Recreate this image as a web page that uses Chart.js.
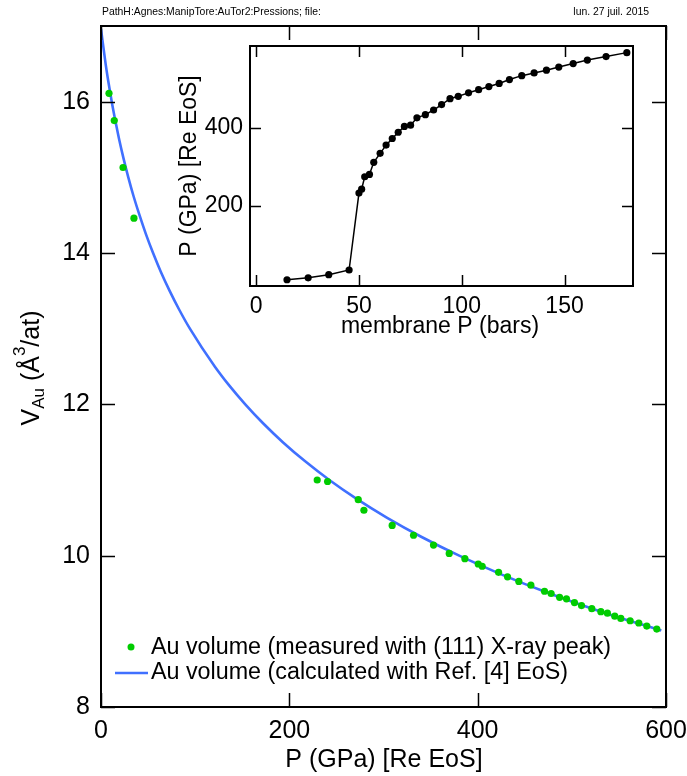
<!DOCTYPE html>
<html><head><meta charset="utf-8">
<script src="https://cdn.jsdelivr.net/npm/chart.js@4.4.1/dist/chart.umd.min.js"></script>
<style>
html,body{margin:0;padding:0;background:#fff;}
#wrap{position:relative;width:687px;height:776px;background:#fff;}
#main{position:absolute;left:0;top:0;}
#inset{position:absolute;left:150px;top:30px;}
</style></head>
<body>
<div id="wrap">
<canvas id="main" width="687" height="776"></canvas>
<canvas id="inset" width="510" height="315"></canvas>
</div>
<script>
// ---- Main plot data: measured Au volume (green points) ----
const measuredP = [8.5,14.1,23.4,35.0,229.6,240.6,273.2,279.2,309.2,331.9,353.1,369.8,386.4,400.6,404.8,422.2,431.7,443.7,456.5,471,478,487,494.3,502.8,510.3,521.2,530.8,537.8,545.6,552,561.9,571.1,579.6,590.2];
const measuredV = [16.11,15.75,15.13,14.46,11.00,10.98,10.74,10.60,10.40,10.27,10.14,10.03,9.96,9.89,9.86,9.78,9.72,9.66,9.61,9.53,9.50,9.45,9.43,9.38,9.34,9.30,9.26,9.24,9.20,9.17,9.14,9.11,9.07,9.03];
// ---- Main plot data: calculated EoS curve (blue line) ----
const curveP = [0,4.9,8.0,11.4,15.2,19.3,23.9,29.0,34.6,40.9,47.7,55.3,63.6,72.9,83.1,94.4,120.8,136.1,153.2,172.1,193.1,216.5,242.5,271.5,303.9,340.0,380.4,425.7,476.4,533.4,595];
const curveV = [16.96,16.5,16.25,16.0,15.75,15.5,15.25,15.0,14.75,14.5,14.25,14.0,13.75,13.5,13.25,13.0,12.5,12.25,12.0,11.75,11.5,11.25,11.0,10.75,10.5,10.25,10.0,9.75,9.5,9.25,9.01];
// ---- Inset data: membrane pressure vs sample pressure ----
const membraneP = [15,25.3,35.3,45.2,50.0,51.3,52.8,55.1,57.2,60.3,63.2,66.2,69.1,72.1,75.1,78.2,82.3,86.3,90.2,94.3,98.3,103.3,108.2,113.2,118.2,123.2,129.2,135.2,141.2,147.2,154.2,161.1,170.2,180.3];
const sampleP = [10,15,23,35,232,242,274,280,311,334,355,372,388,403,406,425,433,445,459,474,480,489,497,505,513,523,533,540,547,555,564,573,582,592];
// ---- Tick labels ----
const mainXTicks = [0,200,400,600];
const mainYTicks = [8,10,12,14,16];
const insetXTicks = [0,50,100,150];
const insetYTicks = [200,400];

const FONT = '"Liberation Sans", Arial, Helvetica, sans-serif';
const GREEN = 'rgb(0,204,0)';
const BLUE = 'rgb(64,112,255)';

function framePlugin(o){
  return {
    id:'frame'+o.name,
    afterDraw(chart){
      const {ctx, chartArea:a, scales:{x,y}} = chart;
      ctx.save();
      ctx.strokeStyle='#000';
      ctx.lineWidth=o.tickW;
      ctx.beginPath();
      for(const v of o.xt){
        const px=Math.round(x.getPixelForValue(v))+0.5;
        ctx.moveTo(px,a.bottom); ctx.lineTo(px,a.bottom-o.L);
        ctx.moveTo(px,a.top); ctx.lineTo(px,a.top+o.L);
      }
      for(const v of o.yt){
        const py=Math.round(y.getPixelForValue(v))+0.5;
        ctx.moveTo(a.left,py); ctx.lineTo(a.left+o.L,py);
        ctx.moveTo(a.right,py); ctx.lineTo(a.right-o.L,py);
      }
      ctx.stroke();
      ctx.lineWidth=o.frameW;
      ctx.strokeRect(a.left,a.top,a.right-a.left,a.bottom-a.top);
      ctx.restore();
      if(o.extra) o.extra(chart);
    }
  };
}

function drawMainExtras(chart){
  const ctx=chart.ctx;
  ctx.save();
  ctx.fillStyle='#000';
  // header
  ctx.font='10.4px '+FONT;
  ctx.textBaseline='middle';
  ctx.textAlign='left';
  ctx.fillText('PathH:Agnes:ManipTore:AuTor2:Pressions; file:',102,12);
  ctx.textAlign='right';
  ctx.fillText('lun. 27 juil. 2015',649,12);
  // x title
  ctx.font='25px '+FONT;
  ctx.textAlign='center';
  ctx.fillText('P (GPa) [Re EoS]',384,760);
  // y title with sub/superscript
  const big='25px '+FONT, small='17px '+FONT;
  const parts=[{t:'V',f:big,dy:0},{t:'Au',f:small,dy:5},{t:' (Å',f:big,dy:0},{t:'3',f:small,dy:-14},{t:'/at)',f:big,dy:0}];
  let w=0; for(const p of parts){ctx.font=p.f; p.w=ctx.measureText(p.t).width; w+=p.w;}
  ctx.translate(39,368); ctx.rotate(-Math.PI/2);
  ctx.textAlign='left'; ctx.textBaseline='alphabetic';
  let cx=-w/2;
  for(const p of parts){ctx.font=p.f; ctx.fillText(p.t,cx,p.dy); cx+=p.w;}
  ctx.restore();
  // legend
  ctx.save();
  const ds=chart.data.datasets;
  ctx.font='23.3px '+FONT; ctx.textBaseline='middle'; ctx.textAlign='left';
  ctx.beginPath(); ctx.fillStyle=ds[0].backgroundColor; ctx.arc(131,647,3.5,0,Math.PI*2); ctx.fill();
  ctx.fillStyle='#000'; ctx.fillText(ds[0].label,151,648);
  ctx.strokeStyle=ds[1].borderColor; ctx.lineWidth=2.6;
  ctx.beginPath(); ctx.moveTo(115,673); ctx.lineTo(148,673); ctx.stroke();
  ctx.fillText(ds[1].label,151,673);
  ctx.restore();
}

function drawInsetExtras(chart){
  const ctx=chart.ctx;
  ctx.save(); ctx.fillStyle='#000';
  ctx.font='23px '+FONT; ctx.textAlign='center'; ctx.textBaseline='middle';
  ctx.fillText('membrane P (bars)',290,297);
  ctx.translate(40,136); ctx.rotate(-Math.PI/2);
  ctx.fillText('P (GPa) [Re EoS]',0,0);
  ctx.restore();
}

const mainTickFont={family:FONT,size:25};
const insetTickFont={family:FONT,size:23};
const noPad = s => { s.paddingLeft=0; s.paddingRight=0; s.paddingTop=0; s.paddingBottom=0; };

new Chart(document.getElementById('main'),{
  type:'scatter',
  data:{datasets:[
    {label:'Au volume (measured with (111) X-ray peak)',
     data:measuredP.map((p,i)=>({x:p,y:measuredV[i]})),
     backgroundColor:GREEN,borderColor:GREEN,pointRadius:3.6,pointBorderWidth:0,showLine:false,order:0},
    {label:'Au volume (calculated with Ref. [4] EoS)',
     data:curveP.map((p,i)=>({x:p,y:curveV[i]})),
     borderColor:BLUE,backgroundColor:BLUE,borderWidth:2.6,pointRadius:0,showLine:true,
     cubicInterpolationMode:'monotone',order:1}
  ]},
  options:{
    responsive:false,animation:false,devicePixelRatio:1,
    layout:{padding:{top:26,right:21,left:0,bottom:0},autoPadding:false},
    plugins:{legend:{display:false},tooltip:{enabled:false}},
    scales:{
      x:{type:'linear',min:0,max:600,
         afterBuildTicks:s=>{s.ticks=mainXTicks.map(v=>({value:v}));},
         afterFit:s=>{s.height=69; noPad(s);},
         grid:{display:false,drawTicks:false},border:{display:false},
         ticks:{font:mainTickFont,color:'#000',padding:9,maxRotation:0,autoSkip:false}},
      y:{type:'linear',min:8,max:17,
         afterBuildTicks:s=>{s.ticks=mainYTicks.map(v=>({value:v}));},
         afterFit:s=>{s.width=101; noPad(s);},
         grid:{display:false,drawTicks:false},border:{display:false},
         ticks:{font:mainTickFont,color:'#000',padding:11,autoSkip:false}}
    }
  },
  plugins:[framePlugin({name:'m',xt:mainXTicks,yt:mainYTicks,L:14,tickW:1.5,frameW:2,extra:drawMainExtras})]
});

new Chart(document.getElementById('inset'),{
  type:'scatter',
  data:{datasets:[
    {label:'inset',data:membraneP.map((m,i)=>({x:m,y:sampleP[i]})),
     borderColor:'#000',backgroundColor:'#000',borderWidth:1.5,pointRadius:3.6,pointBorderWidth:0,showLine:true}
  ]},
  options:{
    responsive:false,animation:false,devicePixelRatio:1,
    layout:{padding:{top:16,right:27,left:0,bottom:0},autoPadding:false},
    plugins:{legend:{display:false},tooltip:{enabled:false}},
    scales:{
      x:{type:'linear',min:-3,max:183.3,
         afterBuildTicks:s=>{s.ticks=insetXTicks.map(v=>({value:v}));},
         afterFit:s=>{s.height=59; noPad(s);},
         grid:{display:false,drawTicks:false},border:{display:false},
         ticks:{font:insetTickFont,color:'#000',padding:7,maxRotation:0,autoSkip:false}},
      y:{type:'linear',min:-6,max:609,
         afterBuildTicks:s=>{s.ticks=insetYTicks.map(v=>({value:v}));},
         afterFit:s=>{s.width=100; noPad(s);},
         grid:{display:false,drawTicks:false},border:{display:false},
         ticks:{font:insetTickFont,color:'#000',padding:7,autoSkip:false}}
    }
  },
  plugins:[framePlugin({name:'i',xt:insetXTicks,yt:insetYTicks,L:11,tickW:1.5,frameW:2,extra:drawInsetExtras})]
});
</script>
</body></html>
